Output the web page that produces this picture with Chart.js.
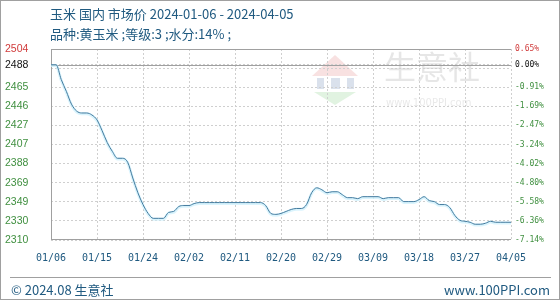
<!DOCTYPE html>
<html>
<head>
<meta charset="utf-8">
<script src="https://cdn.jsdelivr.net/npm/chart.js"></script>
<style>
body { margin: 0; background: #fff; }
#wrap { position: relative; width: 560px; height: 300px; overflow: hidden; font-family: "Noto Sans CJK SC", "Noto Sans", sans-serif; }
#c { position: absolute; left: 0; top: 0; }
.t { position: absolute; color: #205a80; font-size: 13px; line-height: 16px; white-space: nowrap; }
#frame { position: absolute; left: 0; top: 0; width: 558px; height: 298px; border: 1px solid #a0a0a0; }
#foot { position: absolute; left: 10px; top: 277px; width: 541px; border-top: 1px solid #a0a0a0; }
</style>
</head>
<body>
<div id="wrap">
  <canvas id="c" width="560" height="300"></canvas>
  <div class="t" style="left:50px;top:6px">玉米 国内 市场价 2024-01-06 - 2024-04-05</div>
  <div class="t" style="left:50px;top:26px">品种:黄玉米 ;等级:3 ;水分:14% ;</div>
  <div id="foot"></div>
  <div class="t" style="left:11px;top:282px">© 2024.08 生意社</div>
  <div class="t" style="right:10px;top:282px">www.100PPI.com</div>
  <div id="frame"></div>
</div>
<script>
// 每日价格 01/06 .. 04/05 (91 天)
const prices = [
  2488, 2488, 2473, 2461, 2448, 2441, 2439, 2439, 2437, 2432,
  2421, 2409, 2400, 2393, 2393, 2389, 2373, 2358, 2346, 2337,
  2332, 2332, 2332, 2338, 2339, 2344, 2345, 2345, 2347, 2348,
  2348, 2348, 2348, 2348, 2348, 2348, 2348, 2348, 2348, 2348,
  2348, 2348, 2345, 2337, 2336, 2337, 2339, 2341, 2342, 2342,
  2346, 2358, 2363, 2361, 2358, 2359, 2359, 2356, 2353, 2353,
  2352, 2354, 2354, 2354, 2354, 2352, 2353, 2353, 2353, 2349,
  2349, 2349, 2351, 2354, 2350, 2349, 2346, 2346, 2343, 2335,
  2330, 2329, 2328, 2326, 2326, 2327, 2329, 2328, 2328, 2328, 2328
];
const xTickLabels = ['01/06', '01/15', '01/24', '02/02', '02/11', '02/20', '02/29', '03/09', '03/18', '03/27', '04/05'];
const yTickValues = [2310, 2329.4, 2348.8, 2368.2, 2387.6, 2407, 2426.4, 2445.8, 2465.2, 2484.6, 2488, 2504];
const yLeftLabels = ['2310', '2330', '2349', '2369', '2388', '2407', '2427', '2446', '2465', '', '2488', '2504'];
const yRightLabels = ['-7.14%', '-6.36%', '-5.58%', '-4.80%', '-4.02%', '-3.24%', '-2.47%', '-1.69%', '-0.91%', '', '0.00%', '0.65%'];
const yMin = 2310, yMax = 2504, basePrice = 2488;

const green = '#3f8f3f', red = '#d03a3a';

function labelColor(ctx) {
  const v = ctx.tick && ctx.tick.value;
  if (v === yMax) return red;
  if (v === basePrice) return '#111';
  return green;
}

// 背景水印 + 外框 + 基准线
const decor = {
  id: 'decor',
  beforeDraw(chart) {
    const c = chart.ctx;
    c.save();
    c.fillStyle = 'rgba(235,170,170,0.35)';
    c.beginPath(); c.moveTo(312, 76); c.lineTo(335, 55); c.lineTo(358, 76); c.closePath(); c.fill();
    c.fillStyle = 'rgba(150,170,200,0.35)';
    c.fillRect(317, 78, 7, 11); c.fillRect(331, 78, 9, 11); c.fillRect(347, 78, 7, 11);
    c.fillStyle = 'rgba(170,220,170,0.35)';
    c.beginPath(); c.moveTo(314, 92); c.lineTo(356, 92); c.lineTo(335, 105); c.closePath(); c.fill();
    c.fillStyle = 'rgba(200,200,200,0.45)';
    c.font = '32px "Noto Sans CJK SC"';
    c.textBaseline = 'top';
    c.fillText('生意社', 384, 51);
    c.font = '10px "DejaVu Sans"';
    c.fillStyle = 'rgba(200,200,200,0.4)';
    c.fillText('www.100PPI.com', 386, 98);
    c.restore();
  },
  beforeDatasetsDraw(chart) {
    const c = chart.ctx, a = chart.chartArea;
    const yb = Math.round(chart.scales.y.getPixelForValue(basePrice)) + 0.5;
    c.save();
    c.strokeStyle = '#a0a0a0';
    c.lineWidth = 1;
    c.beginPath();
    c.moveTo(a.left + 0.5, a.top); c.lineTo(a.left + 0.5, a.bottom);
    c.moveTo(a.left, a.top + 0.5); c.lineTo(a.right, a.top + 0.5);
    c.moveTo(a.left, a.bottom - 0.5); c.lineTo(a.right, a.bottom - 0.5);
    c.moveTo(a.left, yb); c.lineTo(a.right, yb);
    c.stroke();
    c.restore();
  }
};

const points = prices.map((v, i) => ({ x: i, y: v }));

new Chart(document.getElementById('c'), {
  type: 'line',
  data: {
    datasets: [
      {
        data: points,
        borderColor: '#457b9e',
        borderWidth: 1,
        pointRadius: 0,
        tension: 0.3,
        cubicInterpolationMode: 'monotone'
      },
      {
        data: points.map(p => ({ x: p.x, y: p.y - 0.8 })),
        borderColor: 'rgba(205,240,252,0.75)',
        borderWidth: 3,
        pointRadius: 0,
        tension: 0.3,
        cubicInterpolationMode: 'monotone'
      }
    ]
  },
  options: {
    responsive: false,
    devicePixelRatio: 1,
    animation: false,
    layout: { padding: { top: 49, left: 5, right: 0, bottom: 0 } },
    plugins: { legend: { display: false }, tooltip: { enabled: false } },
    scales: {
      x: {
        type: 'linear',
        min: 0,
        max: prices.length - 1,
        afterBuildTicks: s => { s.ticks = xTickLabels.map((l, i) => ({ value: i * 9 })); },
        afterFit: s => { s.height = 60; },
        grid: { color: '#cfcfcf', drawTicks: false },
        border: { display: false, dash: [2, 2] },
        ticks: {
          autoSkip: false,
          maxRotation: 0,
          padding: 12,
          color: '#205a80',
          font: { family: 'DejaVu Sans Mono', size: 10 },
          callback: (v, i) => xTickLabels[i]
        }
      },
      y: {
        position: 'left',
        min: yMin,
        max: yMax,
        afterBuildTicks: s => { s.ticks = yTickValues.map(v => ({ value: v })); },
        afterFit: s => { s.width = 46; },
        grid: { color: '#cfcfcf', drawTicks: false },
        border: { display: false, dash: [2, 2] },
        ticks: {
          autoSkip: false,
          crossAlign: 'far',
          color: labelColor,
          font: { family: 'Liberation Sans', size: 10.5 },
          callback: (v, i) => yLeftLabels[i]
        }
      },
      y2: {
        position: 'right',
        min: yMin,
        max: yMax,
        afterBuildTicks: s => { s.ticks = yTickValues.map(v => ({ value: v })); },
        afterFit: s => { s.width = 49; },
        grid: { display: false, drawTicks: false },
        border: { display: false },
        ticks: {
          autoSkip: false,
          padding: 4,
          color: labelColor,
          font: { family: 'DejaVu Sans Mono', size: 8 },
          callback: (v, i) => yRightLabels[i]
        }
      }
    }
  },
  plugins: [decor]
});
</script>
</body>
</html>
